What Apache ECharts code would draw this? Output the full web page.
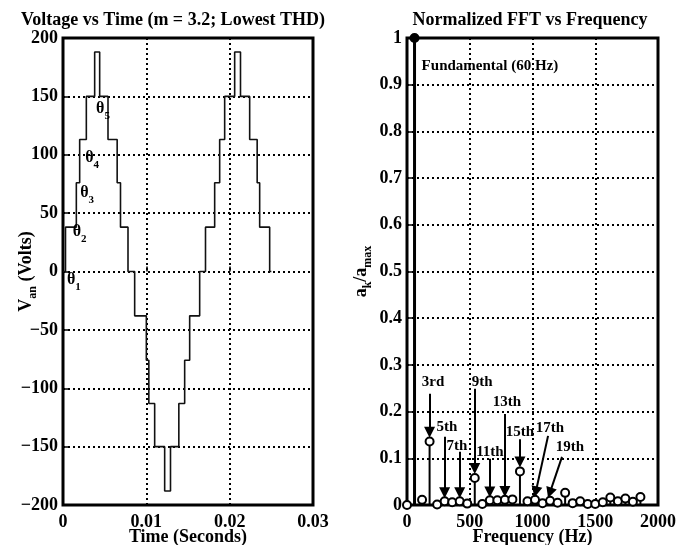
<!DOCTYPE html>
<html>
<head>
<meta charset="utf-8">
<title>Voltage vs Time / Normalized FFT</title>
<script src="https://cdn.jsdelivr.net/npm/echarts@6/dist/echarts.min.js"></script>
<style>
html, body { margin: 0; padding: 0; background: #fff; }
#chart { width: 676px; height: 545px; }
</style>
</head>
<body>
<div id="chart"></div>
<script>
// stepped output voltage: each level holds from its time until the next one
var waveTime = [0, 0.0003, 0.0016, 0.0020, 0.0028, 0.0038, 0.0044, 0.0054, 0.0065, 0.0069,
  0.0078, 0.0086, 0.0100, 0.0103, 0.0110, 0.0122, 0.0129, 0.0139, 0.0146, 0.0152,
  0.0164, 0.0171, 0.0182, 0.0188, 0.0194, 0.0206, 0.0213, 0.0224, 0.0233, 0.0236,
  0.0248, 0.0250];
var waveVolt = [0, 38, 76, 113, 150, 188, 150, 113, 76, 38,
  0, -38, -76, -113, -150, -188, -150, -113, -76, -38,
  0, 38, 76, 113, 150, 188, 150, 113, 76, 38,
  0, 0];

// switching angle labels (time, volts, subscript)
var thetaTime = [0.0013, 0.0020, 0.0029, 0.0035, 0.0048];
var thetaVolt = [-9, 32, 65, 95, 137];
var thetaSub = ['1', '2', '3', '4', '5'];

// harmonic spectrum a_k / a_max
var harmFreq = [0, 60, 120, 180, 240, 300, 360, 420, 480, 540, 600, 660, 720, 780, 840, 900,
  960, 1020, 1080, 1140, 1200, 1260, 1320, 1380, 1440, 1500, 1560, 1620, 1680, 1740, 1800, 1860];
var harmAmp = [0, 1, 0.011, 0.136, 0.001, 0.008, 0.006, 0.008, 0.003, 0.058, 0.002, 0.010,
  0.010, 0.011, 0.012, 0.072, 0.008, 0.011, 0.004, 0.009, 0.005, 0.026, 0.004, 0.008,
  0.002, 0.002, 0.006, 0.016, 0.008, 0.014, 0.007, 0.017];

// harmonic callouts
var noteText = ['3rd', '5th', '7th', '9th', '11th', '13th', '15th', '17th', '19th'];
var notePos = [[207, 0.264], [319, 0.167], [398, 0.126], [598, 0.264], [661, 0.114],
  [797, 0.221], [900, 0.156], [1139, 0.165], [1299, 0.124]];
var arrowFrom = [[180, 0.238], [300, 0.146], [420, 0.114], [540, 0.249], [660, 0.099],
  [780, 0.195], [900, 0.141], [1124, 0.148], [1235, 0.103]];
var arrowTo = [[180, 0.156], [300, 0.026], [420, 0.026], [540, 0.078], [660, 0.028],
  [780, 0.029], [900, 0.092], [1026, 0.028], [1138, 0.026]];
var fundText = 'Fundamental (60 Hz)';
var fundPos = [661, 0.94];

var FONT = 'Liberation Serif';
var chart = echarts.init(document.getElementById('chart'));

function minus(v) { return String(v).replace('-', '\u2212'); }
function plain(v) { return String(v); }

var stepData = waveTime.map(function (t, i) { return [t, waveVolt[i]]; });
var thetaData = thetaTime.map(function (t, i) { return [t, thetaVolt[i], thetaSub[i]]; });
var harmData = harmFreq.map(function (f, i) { return [f, harmAmp[i]]; });
var noteData = noteText.map(function (s, i) { return [notePos[i][0], notePos[i][1], s]; });
noteData.push([fundPos[0], fundPos[1], fundText]);
var arrowData = arrowFrom.map(function (p, i) {
  return [{ coord: p }, { coord: arrowTo[i] }];
});

var labelStyle = { fontFamily: FONT, fontWeight: 'bold', fontSize: 18, color: '#000' };
var dotted = { color: '#000', width: 2, type: [2, 3] };
var subRich = {
  m: { fontFamily: FONT, fontWeight: 'bold', fontSize: 18, lineHeight: 18, verticalAlign: 'top', color: '#000' },
  s: { fontFamily: FONT, fontWeight: 'bold', fontSize: 12, lineHeight: 22, verticalAlign: 'bottom', color: '#000' }
};

function makeAxis(grid, min, max, step, name, gap, isY, fmt) {
  return {
    type: 'value', gridIndex: grid, min: min, max: max, interval: step,
    name: name, nameLocation: 'middle', nameGap: gap, nameMoveOverlap: false,
    nameRotate: isY ? 90 : 0,
    nameTextStyle: { fontFamily: FONT, fontWeight: 'bold', fontSize: 18, color: '#000', rich: subRich },
    axisLine: { show: false },
    axisTick: { show: true, inside: true, length: 5, lineStyle: { color: '#000', width: 1.5 } },
    axisLabel: Object.assign({ margin: isY ? 5 : 8, formatter: fmt || plain, hideOverlap: false }, labelStyle),
    splitLine: { show: true, lineStyle: dotted }
  };
}

chart.setOption({
  animation: false,
  graphic: [
    { type: 'text', x: 173, y: 20, style: { text: 'Voltage vs Time (m = 3.2; Lowest THD)', font: 'bold 18px "Liberation Serif"', fill: '#000', align: 'center', verticalAlign: 'middle' } },
    { type: 'text', x: 530, y: 20, style: { text: 'Normalized FFT vs Frequency', font: 'bold 18px "Liberation Serif"', fill: '#000', align: 'center', verticalAlign: 'middle' } }
  ],
  grid: [
    { left: 63, top: 38, width: 250, height: 467, outerBoundsMode: 'none', containLabel: false,
      show: true, borderColor: '#000', borderWidth: 3 },
    { left: 407, top: 38, width: 251, height: 467, outerBoundsMode: 'none', containLabel: false,
      show: true, borderColor: '#000', borderWidth: 3 }
  ],
  xAxis: [
    makeAxis(0, 0, 0.03, 0.01, 'Time (Seconds)', 23, false),
    makeAxis(1, 0, 2000, 500, 'Frequency (Hz)', 23, false)
  ],
  yAxis: [
    makeAxis(0, -200, 200, 50, '{m|V}{s|an}{m| (Volts)}', 24, true, minus),
    makeAxis(1, 0, 1, 0.1, '{m|a}{s|k}{m|/a}{s|max}', 33, true)
  ],
  series: [
    {
      type: 'line', xAxisIndex: 0, yAxisIndex: 0, data: stepData, step: 'end',
      showSymbol: false, lineStyle: { color: '#111', width: 1.6 }, z: 3
    },
    {
      type: 'scatter', xAxisIndex: 0, yAxisIndex: 0, data: thetaData, symbolSize: 0,
      itemStyle: { opacity: 1 },
      label: {
        show: true, position: [0, 0], align: 'center', verticalAlign: 'middle',
        formatter: function (p) { return '{t|\u03b8}{s|' + p.value[2] + '}'; },
        rich: {
          t: { fontFamily: FONT, fontWeight: 'bold', fontSize: 16, lineHeight: 16, verticalAlign: 'top', color: '#000' },
          s: { fontFamily: FONT, fontWeight: 'bold', fontSize: 11, lineHeight: 21, verticalAlign: 'bottom', color: '#000' }
        }
      }, z: 4
    },
    {
      type: 'custom', xAxisIndex: 1, yAxisIndex: 1, data: harmData, z: 3,
      renderItem: function (params, api) {
        var top = api.coord([api.value(0), api.value(1)]);
        var base = api.coord([api.value(0), 0]);
        return {
          type: 'line',
          shape: { x1: base[0], y1: base[1], x2: top[0], y2: top[1] },
          style: { stroke: '#000', lineWidth: api.value(1) > 0.5 ? 3 : 2 }
        };
      }
    },
    {
      type: 'scatter', xAxisIndex: 1, yAxisIndex: 1, data: harmData, z: 4,
      symbol: 'circle', symbolSize: 8,
      itemStyle: {
        color: function (p) { return p.value[1] > 0.5 ? '#000' : '#fff'; },
        borderColor: '#000', borderWidth: 2, opacity: 1
      }
    },
    {
      type: 'scatter', xAxisIndex: 1, yAxisIndex: 1, data: noteData, symbolSize: 0, z: 5,
      itemStyle: { opacity: 1 },
      label: {
        show: true, position: [0, 0], align: 'center', verticalAlign: 'middle',
        formatter: function (p) { return p.value[2]; },
        fontFamily: FONT, fontWeight: 'bold', fontSize: 15, color: '#000'
      },
      markLine: {
        silent: true, symbol: ['none', 'triangle'], symbolSize: 11,
        lineStyle: { color: '#000', width: 2, type: 'solid' },
        label: { show: false },
        emphasis: { disabled: true },
        data: arrowData
      }
    }
  ]
});
</script>
</body>
</html>
